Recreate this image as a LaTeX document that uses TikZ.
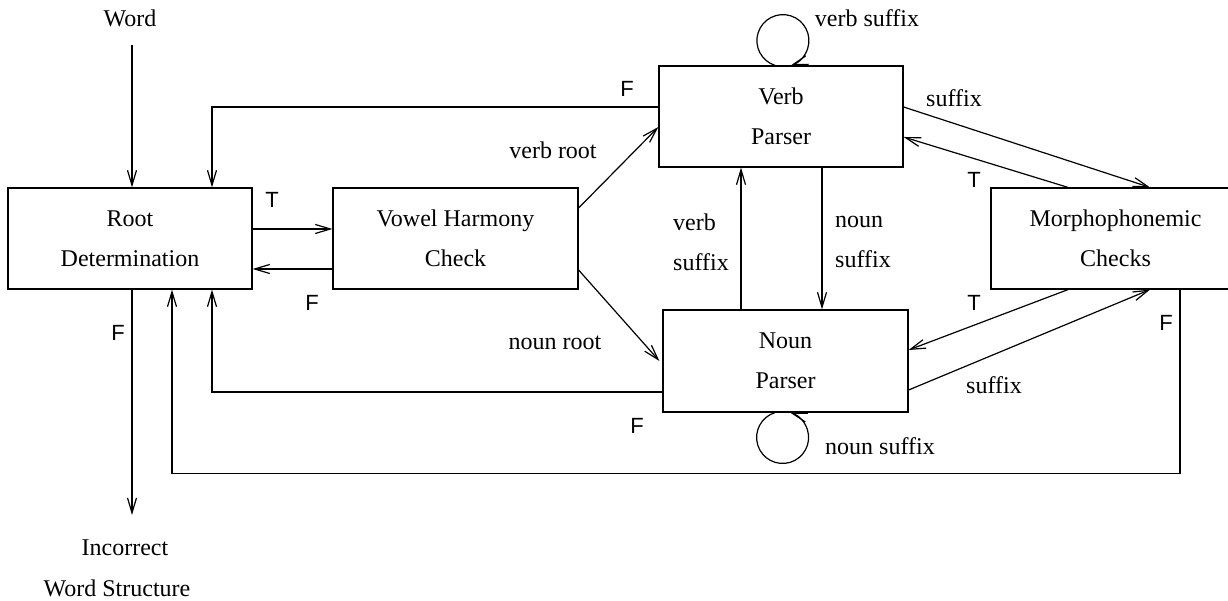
\documentclass[tikz,border=0pt]{standalone}
\usepackage{fontspec}
\setmainfont{Liberation Serif}
\newfontfamily\tfsans{Liberation Sans}
\usetikzlibrary{arrows.meta,calc}
\tikzset{
  box/.style={draw, line width=1.2pt, rectangle, minimum height=101pt, inner sep=0pt, align=center,
    font=\fontsize{24}{40}\selectfont, execute at begin node={\rule{0pt}{24.4pt}}},
  lbl/.style={inner sep=1pt, font=\fontsize{24}{40}\selectfont},
  tf/.style={inner sep=1pt, font=\tfsans\fontsize{22}{26}\selectfont},
  arr/.style={line width=1.2pt, -{Straight Barb[length=15pt,width=9pt]}},
  ln/.style={line width=1.2pt}
}
\begin{document}
\begin{tikzpicture}[x=1pt,y=1pt]
\useasboundingbox (0,0) rectangle (1228,601);
% boxes
\node[box, minimum width=244pt] (root) at (130,362.5) {Root\\Determination};
\node[box, minimum width=245pt] (vowel) at (455.5,362.5) {Vowel Harmony\\Check};
\node[box, minimum width=244pt] (verb) at (781,484.5) {Verb\\Parser};
\node[box, minimum width=245pt, minimum height=102pt] (noun) at (785.5,240) {Noun\\Parser};
\node[box, minimum width=249pt] (morph) at (1115.5,362.5) {Morphophonemic\\Checks};
% outside texts
\node[lbl] (word) at (130,583) {Word};
\node[lbl] (incorrect) at (125,53) {Incorrect};
\node[lbl] (wstruct) at (117,13) {Word Structure};
\coordinate (wordstart) at (132,556);
\coordinate (wrongend) at (132,86);
% input / output
\draw[arr] (wordstart) -- (wordstart |- root.north);
\draw[arr] (wrongend |- root.south) -- (wrongend);
% root <-> vowel
\draw[arr] ([yshift=9.5pt]root.east) -- ([yshift=9.5pt]vowel.west);
\draw[arr] ([yshift=-30.5pt]vowel.west) -- ([yshift=-30.5pt]root.east);
% vowel -> parsers
\draw[arr] ([yshift=30.5pt]vowel.east) -- ([yshift=-10.5pt]verb.west);
\draw[arr] ([yshift=-31.5pt]vowel.east) -- ([xshift=-3pt]noun.west);
% verb <-> noun
\draw[arr] ([xshift=-44.5pt]noun.north) coordinate (vs) -- (vs |- verb.south);
\draw[arr] ([xshift=41pt]verb.south) coordinate (ns) -- (ns |- noun.north);
% failure returns
\draw[arr] ([yshift=9.5pt]verb.west) -| ([xshift=82pt]root.north);
\draw[arr] ([yshift=-31pt]noun.west) -| ([xshift=82pt]root.south);
\draw[arr] ([xshift=64.5pt]morph.south) -- ++(0,-184) -| ([xshift=42pt]root.south);
% parsers <-> morph
\draw[arr] ([yshift=9.5pt]verb.east) -- ([xshift=34.5pt]morph.north);
\draw[arr] ([xshift=-47.5pt]morph.north) -- ([yshift=-20.5pt]verb.east);
\draw[arr] ([xshift=-47.5pt]morph.south) -- ([yshift=11pt]noun.east);
\draw[arr] ([yshift=-29pt]noun.east) -- ([xshift=34.5pt]morph.south);
% self loops
\draw[arr] ([xshift=-6pt]verb.north) arc[start angle=252.3, end angle=-72, radius=26pt];
\draw[arr] ([xshift=-10.5pt]noun.south) arc[start angle=107, end angle=433, radius=26pt];
% edge labels
\node[tf] at (272,401) {T};
\node[tf] at (312,298) {F};
\node[tf] at (627,512) {F};
\node[tf] at (118,268) {F};
\node[tf] at (637,175) {F};
\node[tf] at (974,421) {T};
\node[tf] at (974,298) {T};
\node[tf] at (1166,278) {F};
\node[lbl] at (553,451) {verb root};
\node[lbl] at (555,258) {noun root};
\node[lbl, anchor=west, align=left] at (672,359) {verb\\suffix};
\node[lbl, anchor=west, align=left] at (834,359) {noun\\suffix};
\node[lbl] at (867,583) {verb suffix};
\node[lbl] at (880,155) {noun suffix};
\node[lbl] at (954,503) {suffix};
\node[lbl] at (994,216) {suffix};
\end{tikzpicture}
\end{document}
